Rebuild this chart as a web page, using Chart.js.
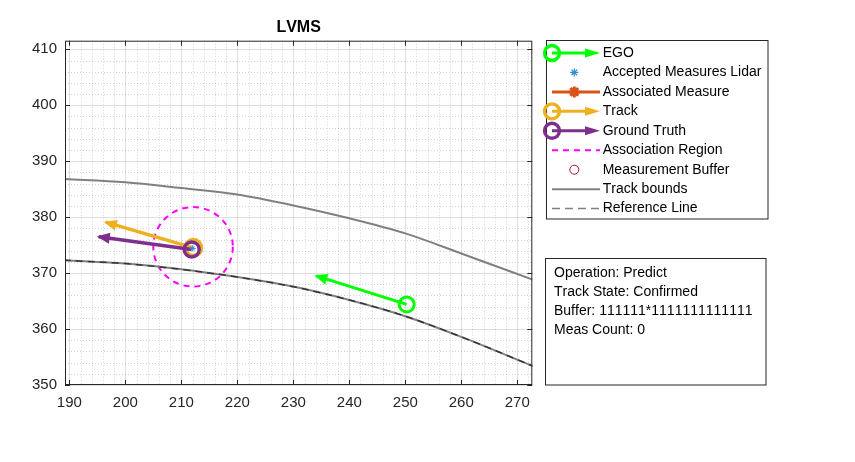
<!DOCTYPE html>
<html>
<head>
<meta charset="utf-8">
<title>LVMS</title>
<script src="https://cdn.jsdelivr.net/npm/chart.js@4.4.1/dist/chart.umd.min.js"></script>
<style>
  html, body { margin: 0; padding: 0; background: #fff; }
  #wrap { position: relative; width: 855px; height: 462px; }
</style>
</head>
<body>
<div id="wrap"><canvas id="lvmsChart"></canvas></div>
<script>
// ---- data ----
const titleText = 'LVMS';

const xLimits = [189.23, 272.68];
const yLimits = [350, 411.54];
const xTicks = [190, 200, 210, 220, 230, 240, 250, 260, 270];
const yTicks = [350, 360, 370, 380, 390, 400, 410];
const minorStep = 2;

// track bounds and reference line
const boundX = [189, 200, 210, 220, 230, 240, 250, 260, 273];
const upperBoundY = [386.82, 386.25, 385.2, 384.05, 382.1, 379.8, 377.1, 373.5, 368.75];
const lowerBoundY = [372.32, 371.7, 370.7, 369.3, 367.6, 365.2, 362.3, 358.6, 353.3];
const refLineY = [372.3, 371.7, 370.65, 369.3, 367.55, 365.2, 362.3, 358.6, 353.3];

// arrows: [start, tip]
const egoArrow = [[250.25, 364.4], [234.1, 369.5]];
const trackArrow = [[212.14, 374.52], [196.5, 379.1]];
const truthArrow = [[211.86, 374.23], [195.25, 376.5]];

const lidarMeasures = [[212.04, 374.41]];

const assocCenter = [212.1, 374.7];
const assocRadius = 7.1;

const legendLabels = ['EGO', 'Accepted Measures Lidar', 'Associated Measure', 'Track', 'Ground Truth',
    'Association Region', 'Measurement Buffer', 'Track bounds', 'Reference Line'];
const infoLines = ['Operation: Predict', 'Track State: Confirmed', 'Buffer: 111111*1111111111111', 'Meas Count: 0'];

// ---- colours ----
const green = '#00ff00';
const orange = '#edb120';
const purple = '#7e2f8e';
const magenta = '#ff00ff';
const blue = '#2b8fd6';
const redOrange = '#d95319';
const darkRed = '#a2142f';
const gray = '#808080';
const axisColor = '#262626';
const fontFamily = '"Liberation Sans", Arial, Helvetica, sans-serif';

function toPoints(pairs) {
    return pairs.map(p => ({ x: p[0], y: p[1] }));
}

function curve(xs, ys) {
    return xs.map((x, i) => ({ x: x, y: ys[i] }));
}

function arrowData(pairs, color, width, ring, ringWidth) {
    return {
        data: toPoints(pairs),
        showLine: true,
        borderColor: color,
        borderWidth: width,
        borderCapStyle: 'butt',
        pointRadius: [ring, 0],
        pointBorderWidth: ringWidth,
        pointBorderColor: color,
        pointBackgroundColor: 'rgba(0,0,0,0)',
        arrowHead: true
    };
}

function drawHead(ctx, x0, y0, x1, y1, color, len, half) {
    const a = Math.atan2(y1 - y0, x1 - x0);
    const tx = x1 + Math.cos(a) * 2, ty = y1 + Math.sin(a) * 2;
    const bx = tx - Math.cos(a) * len, by = ty - Math.sin(a) * len;
    ctx.beginPath();
    ctx.moveTo(tx, ty);
    ctx.lineTo(bx - Math.sin(a) * half, by + Math.cos(a) * half);
    ctx.lineTo(bx + Math.sin(a) * half, by - Math.cos(a) * half);
    ctx.closePath();
    ctx.fillStyle = color;
    ctx.fill();
}

function drawStar(ctx, x, y, r, color, width) {
    ctx.strokeStyle = color;
    ctx.lineWidth = width;
    ctx.setLineDash([]);
    ctx.beginPath();
    for (let k = 0; k < 4; k++) {
        const a = k * Math.PI / 4;
        ctx.moveTo(x - Math.cos(a) * r, y - Math.sin(a) * r);
        ctx.lineTo(x + Math.cos(a) * r, y + Math.sin(a) * r);
    }
    ctx.stroke();
}

// minor grid, association region, arrowheads, box, legend and info box
const decorPlugin = {
    id: 'decor',
    beforeDatasetsDraw(chart) {
        const { ctx, chartArea: a, scales: { x, y } } = chart;
        ctx.save();
        ctx.strokeStyle = 'rgba(38,38,38,0.2)';
        ctx.lineWidth = 1;
        ctx.setLineDash([1, 2]);
        ctx.beginPath();
        for (let v = Math.ceil(x.min / minorStep) * minorStep; v <= x.max; v += minorStep) {
            if (xTicks.includes(v)) continue;
            const px = Math.round(x.getPixelForValue(v)) + 0.5;
            ctx.moveTo(px, a.top);
            ctx.lineTo(px, a.bottom);
        }
        for (let v = Math.ceil(y.min / minorStep) * minorStep; v <= y.max; v += minorStep) {
            if (yTicks.includes(v)) continue;
            const py = Math.round(y.getPixelForValue(v)) + 0.5;
            ctx.moveTo(a.left, py);
            ctx.lineTo(a.right, py);
        }
        ctx.stroke();

        // association region
        const cx = x.getPixelForValue(assocCenter[0]);
        const cy = y.getPixelForValue(assocCenter[1]);
        const rx = Math.abs(x.getPixelForValue(assocCenter[0] + assocRadius) - cx);
        const ry = Math.abs(y.getPixelForValue(assocCenter[1] + assocRadius) - cy);
        ctx.beginPath();
        ctx.ellipse(cx, cy, rx, ry, 0, 0, Math.PI * 2);
        ctx.strokeStyle = magenta;
        ctx.lineWidth = 2;
        ctx.setLineDash([6, 5]);
        ctx.stroke();
        ctx.restore();
    },
    afterDatasetsDraw(chart) {
        const ctx = chart.ctx;
        ctx.save();
        chart.data.datasets.forEach((ds, i) => {
            if (!ds.arrowHead) return;
            const pts = chart.getDatasetMeta(i).data;
            drawHead(ctx, pts[0].x, pts[0].y, pts[1].x, pts[1].y, ds.borderColor, 13, 5.5);
        });
        ctx.restore();
    },
    afterDraw(chart) {
        const { ctx, chartArea: a, scales: { x, y } } = chart;
        ctx.save();
        ctx.setLineDash([]);
        ctx.fontKerning = 'none';

        // axes box and inward ticks
        ctx.strokeStyle = axisColor;
        ctx.lineWidth = 1;
        ctx.strokeRect(a.left + 0.5, a.top + 0.5, a.right - a.left - 1, a.bottom - a.top - 1);
        ctx.beginPath();
        xTicks.forEach(v => {
            const px = Math.round(x.getPixelForValue(v)) + 0.5;
            ctx.moveTo(px, a.bottom); ctx.lineTo(px, a.bottom - 5);
            ctx.moveTo(px, a.top); ctx.lineTo(px, a.top + 5);
        });
        yTicks.forEach(v => {
            const py = Math.round(y.getPixelForValue(v)) + 0.5;
            ctx.moveTo(a.left, py); ctx.lineTo(a.left + 5, py);
            ctx.moveTo(a.right, py); ctx.lineTo(a.right - 5, py);
        });
        ctx.stroke();

        // title
        ctx.fillStyle = '#000';
        ctx.font = 'bold 16px ' + fontFamily;
        ctx.textAlign = 'center';
        ctx.textBaseline = 'middle';
        ctx.fillText(titleText, (a.left + a.right) / 2, 27.5);

        // legend
        const lx = 546.5, ly = 40.5, lw = 221.5, lh = 178.5;
        ctx.fillStyle = '#fff';
        ctx.fillRect(lx, ly, lw, lh);
        ctx.strokeStyle = axisColor;
        ctx.strokeRect(lx, ly, lw, lh);
        const x0 = 552, x1 = 600, xm = 574.3;
        ctx.font = '14px ' + fontFamily;
        ctx.textAlign = 'left';
        ctx.textBaseline = 'middle';
        legendLabels.forEach((label, i) => {
            const ry = 53 + i * 19.45;
            ctx.setLineDash([]);
            if (i === 0 || i === 3 || i === 4) {
                const c = [green, null, null, orange, purple][i];
                ctx.strokeStyle = c;
                ctx.lineWidth = 3;
                ctx.beginPath();
                ctx.moveTo(x0, ry); ctx.lineTo(x1 - 8, ry);
                ctx.stroke();
                drawHead(ctx, x0, ry, x1 - 2, ry, c, 15, 4.5);
                ctx.beginPath();
                ctx.arc(x0, ry, 7.5, 0, Math.PI * 2);
                ctx.lineWidth = 3.4;
                ctx.stroke();
            } else if (i === 1) {
                drawStar(ctx, xm, ry, 4, blue, 1.2);
            } else if (i === 2) {
                ctx.strokeStyle = redOrange;
                ctx.lineWidth = 3;
                ctx.beginPath();
                ctx.moveTo(x0, ry); ctx.lineTo(x1, ry);
                ctx.stroke();
                drawStar(ctx, xm, ry, 5.5, redOrange, 3);
            } else if (i === 5) {
                ctx.strokeStyle = magenta;
                ctx.lineWidth = 2;
                ctx.setLineDash([6, 5]);
                ctx.beginPath();
                ctx.moveTo(x0, ry); ctx.lineTo(x1, ry);
                ctx.stroke();
            } else if (i === 6) {
                ctx.strokeStyle = darkRed;
                ctx.lineWidth = 1;
                ctx.beginPath();
                ctx.arc(xm, ry, 4.5, 0, Math.PI * 2);
                ctx.stroke();
            } else if (i === 7) {
                ctx.strokeStyle = gray;
                ctx.lineWidth = 2;
                ctx.beginPath();
                ctx.moveTo(x0, ry); ctx.lineTo(x1, ry);
                ctx.stroke();
            } else {
                ctx.strokeStyle = gray;
                ctx.lineWidth = 1.5;
                ctx.setLineDash([8, 5]);
                ctx.beginPath();
                ctx.moveTo(x0, ry); ctx.lineTo(x1, ry);
                ctx.stroke();
            }
            ctx.setLineDash([]);
            ctx.fillStyle = '#000';
            ctx.fillText(label, 602.7, ry);
        });

        // info box
        ctx.fillStyle = '#fff';
        ctx.fillRect(545.5, 258.5, 220.5, 126.5);
        ctx.strokeStyle = axisColor;
        ctx.lineWidth = 1;
        ctx.strokeRect(545.5, 258.5, 220.5, 126.5);
        ctx.fillStyle = '#000';
        infoLines.forEach((line, i) => {
            ctx.fillText(line, 554, 273.5 + i * 18.9);
        });
        ctx.restore();
    }
};

const tickFont = { family: fontFamily, size: 15 };

new Chart(document.getElementById('lvmsChart'), {
    type: 'scatter',
    data: {
        datasets: [
            {
                data: toPoints(lidarMeasures),
                pointStyle: 'star',
                pointRadius: 3,
                pointBorderWidth: 1,
                pointBorderColor: blue,
                pointBackgroundColor: blue
            },
            arrowData(truthArrow, purple, 3.5, 7.5, 3.5),
            arrowData(trackArrow, orange, 3.5, 8, 4),
            arrowData(egoArrow, green, 3, 7.5, 3),
            {
                data: curve(boundX, refLineY),
                showLine: true,
                borderColor: 'rgba(0,0,0,0.6)',
                borderWidth: 1.5,
                borderDash: [7, 5],
                cubicInterpolationMode: 'monotone',
                pointRadius: 0
            },
            {
                data: curve(boundX, lowerBoundY),
                showLine: true,
                borderColor: gray,
                borderWidth: 2,
                cubicInterpolationMode: 'monotone',
                pointRadius: 0
            },
            {
                data: curve(boundX, upperBoundY),
                showLine: true,
                borderColor: gray,
                borderWidth: 2,
                cubicInterpolationMode: 'monotone',
                pointRadius: 0
            }
        ]
    },
    options: {
        responsive: true,
        maintainAspectRatio: false,
        animation: false,
        events: [],
        layout: {
            padding: { top: 40.7, right: 322.7, left: 0, bottom: 0 }
        },
        scales: {
            x: {
                type: 'linear',
                min: xLimits[0],
                max: xLimits[1],
                afterBuildTicks: s => { s.ticks = xTicks.map(v => ({ value: v })); },
                afterFit: s => { s.height = 77; },
                ticks: { font: tickFont, color: axisColor, padding: 9, maxRotation: 0 },
                grid: { color: 'rgba(38,38,38,0.15)', drawTicks: false },
                border: { display: false }
            },
            y: {
                type: 'linear',
                min: yLimits[0],
                max: yLimits[1],
                afterBuildTicks: s => { s.ticks = yTicks.map(v => ({ value: v })); },
                afterFit: s => { s.width = 65; },
                ticks: { font: tickFont, color: axisColor, padding: 8 },
                grid: { color: 'rgba(38,38,38,0.15)', drawTicks: false },
                border: { display: false }
            }
        },
        plugins: {
            legend: { display: false },
            title: { display: false },
            tooltip: { enabled: false }
        }
    },
    plugins: [decorPlugin]
});
</script>
</body>
</html>
